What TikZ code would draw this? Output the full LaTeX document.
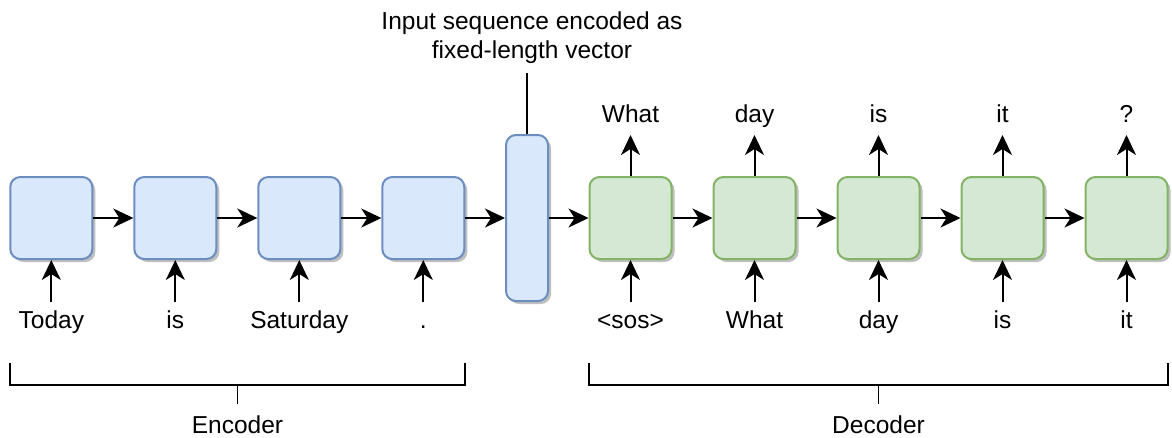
\documentclass[tikz,border=0pt]{standalone}
\usepackage{fontspec}
\setmainfont{Liberation Sans}
\usetikzlibrary{arrows.meta,shadows}
\definecolor{encfill}{HTML}{DAE8FC}
\definecolor{encline}{HTML}{6C8EBF}
\definecolor{decfill}{HTML}{D5E8D4}
\definecolor{decline}{HTML}{82B366}
\tikzset{
  cell/.style={rounded corners=10pt, minimum width=82pt, minimum height=82pt,
    inner sep=0pt, line width=2pt,
    drop shadow={shadow xshift=3pt, shadow yshift=-3pt, fill=black!25, opacity=1}},
  enc/.style={cell, draw=encline, fill=encfill},
  dec/.style={cell, draw=decline, fill=decfill},
  word/.style={font=\fontsize{24.5}{29}\selectfont, anchor=base, inner sep=0pt},
  flow/.style={line width=2pt, -{Stealth[length=20pt, width=19pt, inset=6pt]}},
  plain/.style={line width=2pt},
  bracket/.style={line width=1.5pt}
}
\begin{document}
\begin{tikzpicture}[x=1pt, y=-1pt]
\useasboundingbox (0,0) rectangle (1172,437);

% encoder cells with their input words
\foreach \i/\x/\w in {1/51.3/Today, 2/175.3/is, 3/299.3/Saturday, 4/423.3/.} {
  \node[enc] (e\i) at (\x,218) {};
  \node[word] (ew\i) at (\x,328) {\w};
  \coordinate (ein\i) at (\x,302);
  \draw[flow] (ein\i) -- (e\i.south);
}

% fixed-length context vector
\node[enc, minimum width=42pt, minimum height=166pt] (v) at (527,218) {};
\coordinate (vtop) at (527,73);
\draw[plain] (v.north) -- (vtop);
\node[word, align=center] (vcap) at (532,58.3)
  {Input sequence encoded as\\fixed-length vector};

% decoder cells with inputs and outputs
\foreach \i/\x/\w/\o in {1/630.5/{<sos>}/What, 2/754.5/What/day, 3/878.5/day/is,
                          4/1002.5/is/it, 5/1126.5/it/?} {
  \node[dec] (d\i) at (\x,218) {};
  \node[word] (dw\i) at (\x,328) {\w};
  \node[word] (do\i) at (\x,122) {\o};
  \coordinate (din\i) at (\x,302);
  \coordinate (dout\i) at (\x,135);
  \draw[flow] (din\i) -- (d\i.south);
  \draw[flow] (d\i.north) -- (dout\i);
}

% recurrent connections
\draw[flow] (e1.east) -- (e2.west);
\draw[flow] (e2.east) -- (e3.west);
\draw[flow] (e3.east) -- (e4.west);
\draw[flow] (e4.east) -- (v.west);
\draw[flow] (v.east) -- (d1.west);
\draw[flow] (d1.east) -- (d2.west);
\draw[flow] (d2.east) -- (d3.west);
\draw[flow] (d3.east) -- (d4.west);
\draw[flow] (d4.east) -- (d5.west);

% group brackets
\draw[bracket] (10,363) -- (10,385) -- (465,385) -- (465,363);
\draw[bracket] (237.5,385) -- (237.5,404);
\node[word] (enclab) at (237.5,433) {Encoder};
\draw[bracket] (589,363) -- (589,385) -- (1168,385) -- (1168,363);
\draw[bracket] (878.5,385) -- (878.5,404);
\node[word] (declab) at (878.5,433) {Decoder};
\end{tikzpicture}
\end{document}
